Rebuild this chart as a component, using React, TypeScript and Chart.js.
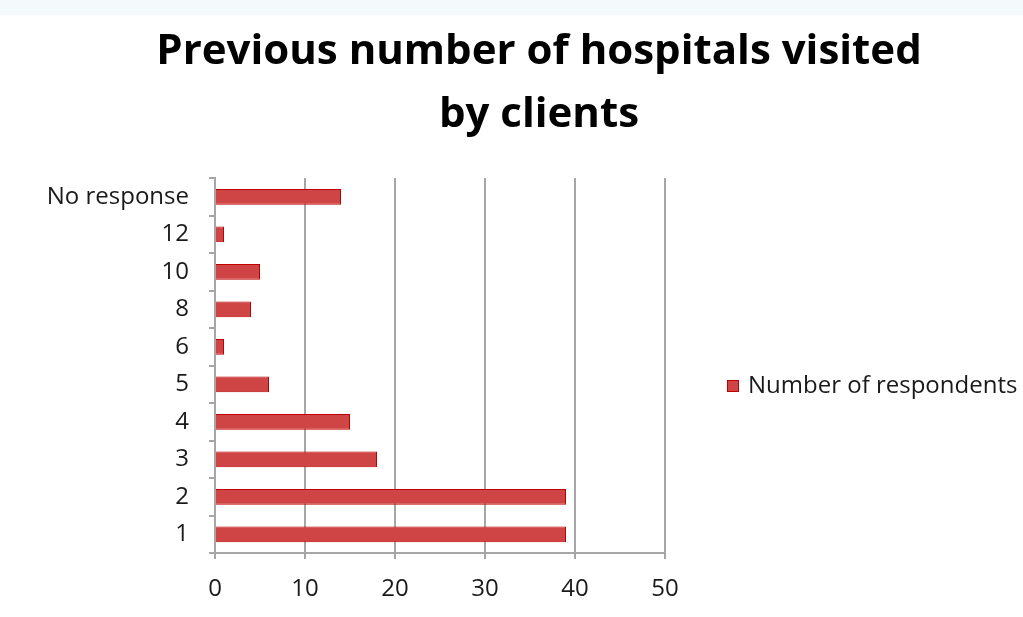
import React, { useEffect, useRef } from "react";
import { Chart, registerables } from "chart.js";

Chart.register(...registerables);

const categories = ["No response", "12", "10", "8", "6", "5", "4", "3", "2", "1"];
const respondents = [14, 1, 5, 4, 1, 6, 15, 18, 39, 39];
const seriesName = "Number of respondents";
const titleLines = ["Previous number of hospitals visited", "by clients"];
const xMin = 0;
const xMax = 50;
const xStep = 10;

const FONT = "'Open Sans', Lato, sans-serif";

const overlayPlugin = {
  id: "overlay",
  afterDraw(chart: any) {
    const ctx = chart.ctx;
    ctx.save();
    ctx.fillStyle = "#000";
    ctx.textAlign = "center";
    ctx.textBaseline = "middle";
    ctx.font = `bold 42px ${FONT}`;
    ctx.fillText(titleLines[0], 539, 52);
    ctx.fillText(titleLines[1], 539, 115);
    // legend
    const cy = 386;
    ctx.fillStyle = "#cf4545";
    ctx.strokeStyle = "#c00000";
    ctx.lineWidth = 1;
    ctx.fillRect(727, cy - 6, 12, 12);
    ctx.strokeRect(727.5, cy - 5.5, 11, 11);
    ctx.fillStyle = "#1a1a1a";
    ctx.textAlign = "left";
    ctx.font = `24px ${FONT}`;
    ctx.fillText(seriesName, 748, cy);
    ctx.restore();
  },
};

export default function App() {
  const ref = useRef<HTMLCanvasElement | null>(null);
  useEffect(() => {
    document.body.style.margin = "0";
    document.body.style.overflow = "hidden";
    const chart = new Chart(ref.current as HTMLCanvasElement, {
      type: "bar",
      data: {
        labels: categories,
        datasets: [
          {
            label: seriesName,
            data: respondents,
            backgroundColor: "#cf4545",
            borderColor: "#c00000",
            borderWidth: 1,
            categoryPercentage: 1,
            barPercentage: 0.42,
          },
        ],
      },
      options: {
        indexAxis: "y",
        animation: false,
        responsive: false,
        maintainAspectRatio: false,
        layout: { padding: { top: 178, right: 358, left: 0, bottom: 0 } },
        plugins: {
          legend: { display: false },
          title: { display: false },
          tooltip: { enabled: false },
        },
        scales: {
          x: {
            min: xMin,
            max: xMax,
            ticks: {
              stepSize: xStep,
              color: "#1a1a1a",
              font: { family: FONT, size: 24 },
              padding: 16,
            },
            grid: {
              color: "#a6a6a6",
              lineWidth: 2,
              tickLength: 6,
              drawOnChartArea: true,
            },
            border: { color: "#a6a6a6", width: 2 },
            afterFit(scale: any) {
              scale.height = 64;
            },
          },
          y: {
            ticks: {
              color: "#1a1a1a",
              font: { family: FONT, size: 24 },
              padding: 20,
            },
            grid: {
              color: "#a6a6a6",
              lineWidth: 2,
              tickLength: 6,
              drawOnChartArea: false,
              offset: true,
            },
            border: { color: "#a6a6a6", width: 2 },
            afterFit(scale: any) {
              scale.width = 215;
            },
          },
        },
      },
      plugins: [overlayPlugin],
    });
    return () => chart.destroy();
  }, []);
  return (
    <div style={{ position: "absolute", left: 0, top: 0, width: 1023, height: 617, background: "#fff" }}>
      <div style={{ position: "absolute", left: 0, top: 0, width: 1023, height: 15, background: "#f4fafc" }} />
      <canvas ref={ref} width={1023} height={617} style={{ position: "absolute", left: 0, top: 0, width: 1023, height: 617 }} />
    </div>
  );
}
